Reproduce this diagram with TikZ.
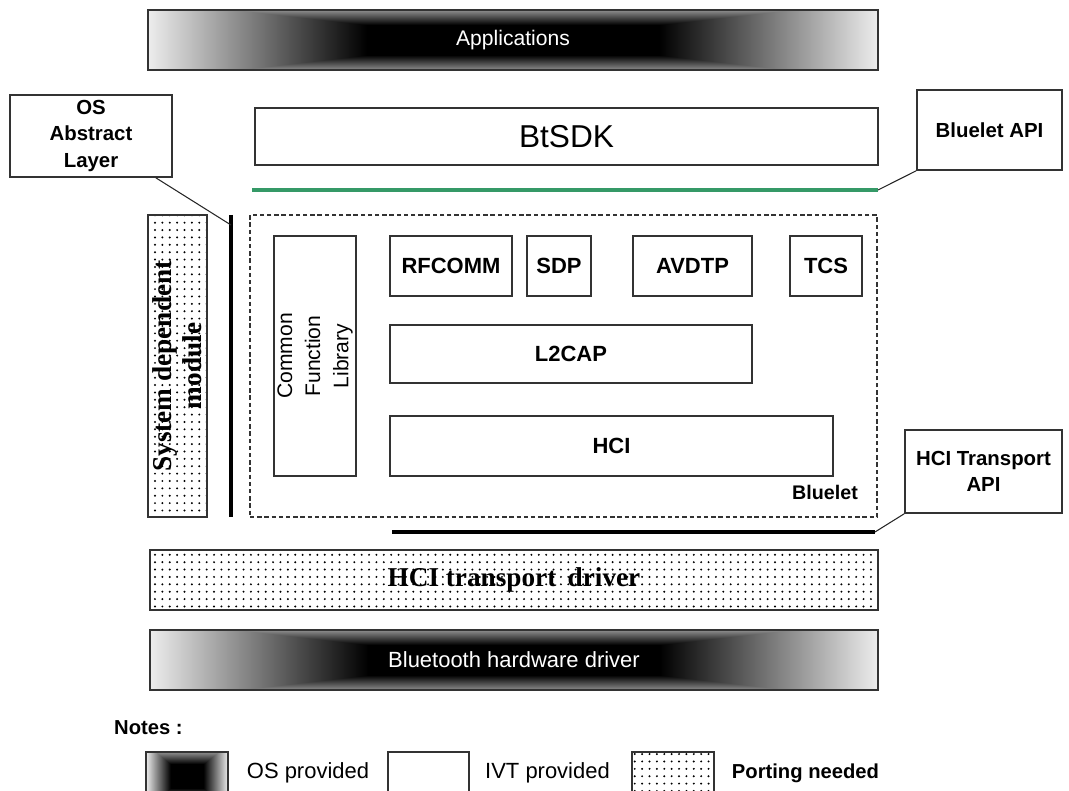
\documentclass[tikz,border=0pt]{standalone}
\usepackage{fontspec}
\setmainfont{Liberation Sans}
\newfontfamily\timesf{Liberation Serif}
\usetikzlibrary{positioning,patterns.meta,shadings}
% black centre fading to light grey at the edges (OS provided parts)
\pgfdeclarefunctionalshading{osgrad}{\pgfpointorigin}{\pgfpoint{100bp}{100bp}}{}{
  50 sub abs 25 div 0.5 sub 0.5 div dup 0 lt {pop 0} if 0.6 mul
  exch 50 sub abs 25 div 0.4 sub 0.6 div dup 0 lt {pop 0} if
  2 copy lt {exch} if pop
  dup 1 gt {pop 1} if 0.93 mul dup dup
}

\begin{document}
\begin{tikzpicture}[x=0.2mm, y=-0.2mm]
\tikzstyle{box}=[draw=black!80, line width=0.9pt, inner sep=2pt]
\tikzstyle{osbox}=[box, shade, shading=osgrad, text=white]
\tikzstyle{portbox}=[box, pattern={Dots[radius=0.62pt, distance=4.2pt]}]
\tikzstyle{modlbl}=[font=\bfseries\fontsize{12.5}{15}\selectfont]
\tikzstyle{notelbl}=[font=\bfseries\fontsize{11.6}{15}\selectfont, align=center]
\tikzstyle{thickline}=[line width=2.6pt, black]
\tikzstyle{callout}=[line width=0.6pt, black!85]

\useasboundingbox (0,0) rectangle (1069,791);

% layers
\node[osbox, minimum width=146mm, minimum height=12mm, font=\fontsize{12}{14}\selectfont] (apps) at (513,40) {Applications};
\node[box, minimum width=124.6mm, minimum height=11.4mm, font=\fontsize{18}{20}\selectfont] (btsdk) at (566.5,136.5) {BtSDK};
\node[box, notelbl, minimum width=32.4mm, minimum height=16.4mm] (osal) at (91,136) {OS\\Abstract\\Layer};
\node[box, notelbl, minimum width=29mm, minimum height=16mm] (blapi) at (989.5,130) {Bluelet API};

% bluelet core
\node[box, dashed, dash pattern=on 2.5pt off 1.6pt, line width=0.7pt, minimum width=125.4mm, minimum height=60.4mm] (bluelet) at (563.5,366) {};
\node[portbox, rotate=90, minimum width=60.4mm, minimum height=11.8mm, align=center,
  font=\timesf\bfseries\fontsize{15.5}{17}\selectfont] (sysdep) at (177.5,366) {System dependent\\module};
\node[box, rotate=90, minimum width=48mm, minimum height=16mm, align=center,
  font=\fontsize{12}{16}\selectfont] (cfl) at (315,356) {Common\\Function\\Library};
\node[box, modlbl, minimum width=24.4mm, minimum height=12mm] (rfcomm) at (451,266) {RFCOMM};
\node[box, modlbl, minimum width=12.8mm, minimum height=12mm] (sdp) at (559,266) {SDP};
\node[box, modlbl, minimum width=23.8mm, minimum height=12mm] (avdtp) at (692.5,266) {AVDTP};
\node[box, modlbl, minimum width=14.4mm, minimum height=12mm] (tcs) at (826,266) {TCS};
\node[box, modlbl, minimum width=72.4mm, minimum height=11.6mm] (l2cap) at (571,354) {L2CAP};
\node[box, modlbl, minimum width=88.6mm, minimum height=12mm] (hci) at (611.5,446) {HCI};
\node[font=\bfseries\fontsize{11.2}{13}\selectfont] (bllbl) at (825,492) {Bluelet};
\node[box, notelbl, minimum width=31.4mm, minimum height=16.6mm] (hcitapi) at (983.5,471.5) {HCI Transport\\API};

% lower layers
\node[portbox, minimum width=145.6mm, minimum height=12mm, font=\timesf\bfseries\fontsize{15.5}{17}\selectfont] (hcidrv) at (514,580) {HCI transport\, driver};
\node[osbox, minimum width=145.6mm, minimum height=12mm, font=\fontsize{12.5}{14}\selectfont] (btdrv) at (514,660) {Bluetooth hardware driver};

% interfaces
\coordinate (apil) at (252,190);
\coordinate (apir) at (878,190);
\coordinate (osltop) at (231,215);
\coordinate (oslbot) at (231,517);
\coordinate (oslhook) at (231,225);
\coordinate (hcil) at (392,532);
\coordinate (hcir) at (875,532);
\draw[line width=2.2pt, color={rgb,255:red,53;green,153;blue,103}] (apil) -- (apir);
\draw[thickline] (osltop) -- (oslbot);
\draw[thickline] (hcil) -- (hcir);
\draw[callout] (apir) -- (blapi.south west);
\draw[callout] ([xshift=-3.4mm]osal.south east) -- (oslhook);
\draw[callout] (hcir) -- (hcitapi.south west);

% legend
\node[anchor=west, font=\bfseries\fontsize{11.5}{13}\selectfont] (notes) at (108,728) {Notes :};
\node[osbox, minimum width=16.4mm, minimum height=9.6mm] (legos) at (187,776) {};
\node[font=\fontsize{12.5}{14}\selectfont] (legostxt) at (308,773) {OS provided};
\node[box, minimum width=16.2mm, minimum height=9.6mm] (legivt) at (428.5,776) {};
\node[font=\fontsize{12.5}{14}\selectfont] (legivttxt) at (547.5,773) {IVT provided};
\node[portbox, minimum width=16.4mm, minimum height=9.6mm] (legport) at (673,776) {};
\node[font=\bfseries\fontsize{11.5}{14}\selectfont] (legporttxt) at (805.5,773) {Porting needed};
\end{tikzpicture}
\end{document}
